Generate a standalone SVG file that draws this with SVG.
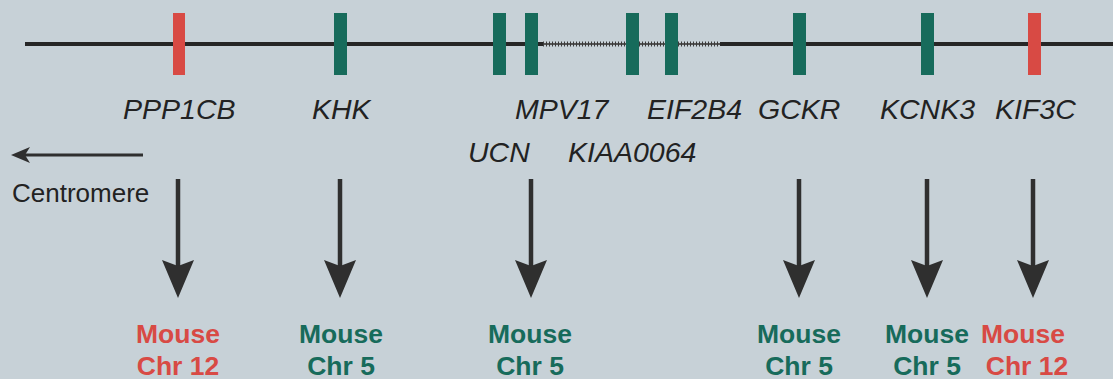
<svg xmlns="http://www.w3.org/2000/svg" width="1113" height="379" viewBox="0 0 1113 379">
<style>
.bg{fill:#c7d1d7}
.chrom{stroke:#262626;stroke-width:4;fill:none}
.hatch{stroke:#3a3a3a;stroke-width:5;stroke-dasharray:1 2;fill:none}
.thin{stroke:#555;stroke-width:2;fill:none}
.g{fill:#176b5b}
.r{fill:#d84a44}
.gene{font-family:"Liberation Sans",Arial,sans-serif;font-style:italic;font-size:28.5px;fill:#222}
.cen{font-family:"Liberation Sans",Arial,sans-serif;font-size:26px;fill:#222}
.mouse{font-family:"Liberation Sans",Arial,sans-serif;font-weight:bold;font-size:26.5px;text-anchor:middle}
.tg{fill:#176b5b}
.tr{fill:#d84a44}
.shaft{stroke:#2f2f2f;stroke-width:4.5;fill:none}
.head{fill:#2f2f2f}
</style>
<rect class="bg" x="0" y="0" width="1113" height="379"/>

<g id="chromosome">
<line class="chrom" x1="25" y1="44" x2="543" y2="44"/>
<line class="thin" x1="543" y1="44" x2="720" y2="44"/>
<line class="hatch" x1="543" y1="44" x2="720" y2="44"/>
<line class="chrom" x1="720" y1="44" x2="1113" y2="44"/>
</g>

<g id="PPP1CB"><rect class="r" x="173" y="13" width="12" height="62"/><text class="gene" x="123" y="119">PPP1CB</text></g>
<g id="KHK"><rect class="g" x="334" y="13" width="13" height="62"/><text class="gene" x="312" y="119">KHK</text></g>
<g id="UCN"><rect class="g" x="493" y="13" width="13" height="62"/><text class="gene" x="468" y="162">UCN</text></g>
<g id="MPV17"><rect class="g" x="525" y="13" width="13" height="62"/><text class="gene" x="515" y="119">MPV17</text></g>
<g id="KIAA0064"><rect class="g" x="626" y="13" width="13" height="62"/><text class="gene" x="568" y="162">KIAA0064</text></g>
<g id="EIF2B4"><rect class="g" x="665" y="13" width="13" height="62"/><text class="gene" x="647" y="119">EIF2B4</text></g>
<g id="GCKR"><rect class="g" x="793" y="13" width="13" height="62"/><text class="gene" x="758" y="119">GCKR</text></g>
<g id="KCNK3"><rect class="g" x="921" y="13" width="13" height="62"/><text class="gene" x="880" y="119">KCNK3</text></g>
<g id="KIF3C"><rect class="r" x="1028" y="13" width="13" height="62"/><text class="gene" x="995" y="119">KIF3C</text></g>

<g id="centromere">
<line x1="143" y1="155" x2="24" y2="155" stroke="#2f2f2f" stroke-width="3"/>
<path d="M11,155 L30,147 L25,155 L30,163 Z" fill="#2f2f2f"/>
<text class="cen" x="12" y="202">Centromere</text>
</g>

<g id="connectors">
<line class="shaft" x1="178" y1="179" x2="178" y2="266"/>
<path class="head" d="M162,260 L178,266 L194,260 L178,298 Z"/>
<line class="shaft" x1="340" y1="179" x2="340" y2="266"/>
<path class="head" d="M324,260 L340,266 L356,260 L340,298 Z"/>
<line class="shaft" x1="531" y1="179" x2="531" y2="266"/>
<path class="head" d="M515,260 L531,266 L547,260 L531,298 Z"/>
<line class="shaft" x1="799" y1="179" x2="799" y2="266"/>
<path class="head" d="M783,260 L799,266 L815,260 L799,298 Z"/>
<line class="shaft" x1="927" y1="179" x2="927" y2="266"/>
<path class="head" d="M911,260 L927,266 L943,260 L927,298 Z"/>
<line class="shaft" x1="1033" y1="179" x2="1033" y2="266"/>
<path class="head" d="M1017,260 L1033,266 L1049,260 L1033,298 Z"/>
</g>

<g id="mouse-PPP1CB"><text class="mouse tr" x="178" y="343">Mouse</text><text class="mouse tr" x="178" y="375">Chr 12</text></g>
<g id="mouse-KHK"><text class="mouse tg" x="341" y="343">Mouse</text><text class="mouse tg" x="341" y="375">Chr 5</text></g>
<g id="mouse-UCN"><text class="mouse tg" x="530" y="343">Mouse</text><text class="mouse tg" x="530" y="375">Chr 5</text></g>
<g id="mouse-GCKR"><text class="mouse tg" x="799" y="343">Mouse</text><text class="mouse tg" x="799" y="375">Chr 5</text></g>
<g id="mouse-KCNK3"><text class="mouse tg" x="927" y="343">Mouse</text><text class="mouse tg" x="927" y="375">Chr 5</text></g>
<g id="mouse-KIF3C"><text class="mouse tr" x="1023" y="343">Mouse</text><text class="mouse tr" x="1027" y="375">Chr 12</text></g>
</svg>
